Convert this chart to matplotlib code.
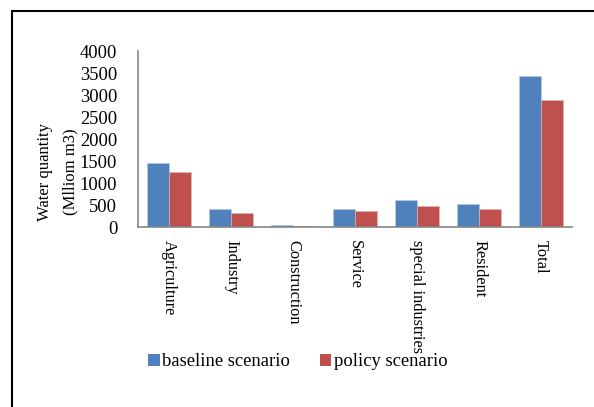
import matplotlib
matplotlib.use("Agg")
import matplotlib.pyplot as plt
import numpy as np
from matplotlib.patches import Patch, Rectangle

categories = ["Agriculture", "Industry", "Construction", "Service",
              "special industries", "Resident", "Total"]
baseline = [1450, 400, 40, 420, 610, 515, 3440]
policy = [1250, 310, 30, 360, 485, 416, 2880]
yticks = [0, 500, 1000, 1500, 2000, 2500, 3000, 3500, 4000]

plt.rcParams['font.family'] = ['Liberation Serif', 'DejaVu Serif']
plt.rcParams['font.size'] = 12

fig = plt.figure(figsize=(5.94, 4.07), dpi=100)
ax = fig.add_axes([138/594, 1-227/407, (572-138)/594, (227-51)/407])

x = np.arange(len(categories))
w = 0.355
blue = "#4F81BD"
red = "#C0504D"
ax.bar(x - w/2, baseline, w, color=blue, edgecolor="#B9CDE5", linewidth=0.4)
ax.bar(x + w/2, policy, w, color=red, edgecolor="#E6B9B8", linewidth=0.4)

ax.set_xlim(-0.5, len(categories) - 0.5)
ax.set_ylim(0, 4000)
ax.set_yticks(yticks)
ax.set_yticklabels([str(v) for v in yticks], fontsize=13.3)
ax.set_xticks(x)
ax.set_xticklabels(categories, rotation=270, va="top", ha="center", fontsize=11.8)
ax.tick_params(axis="y", length=0, pad=15)
ax.tick_params(axis="x", length=0, pad=9)
for s in ["top", "right"]:
    ax.spines[s].set_visible(False)
for s in ["left", "bottom"]:
    ax.spines[s].set_color("#868686")
    ax.spines[s].set_linewidth(1.2)

fig.text(45/594, 1-172/407, "Water quantity", rotation=90, ha="center", va="center", fontsize=12)
fig.text(70/594, 1-172/407, "(Mlliom m3)", rotation=90, ha="center", va="center", fontsize=12)

handles = [Patch(facecolor=blue), Patch(facecolor=red)]
fig.legend(handles, ["baseline scenario", "policy scenario"], ncol=2, frameon=False,
           loc="center", bbox_to_anchor=(298/594, 1-362/407),
           handlelength=0.6, handleheight=0.6, handletextpad=0.15, columnspacing=1.6,
           fontsize=13.4)

fig.patches.append(Rectangle((12/594, -0.1), 1.2, (1-11/407) + 0.1, transform=fig.transFigure,
                             fill=False, edgecolor="black", linewidth=1.5))

fig.savefig("out.png", dpi=100)
